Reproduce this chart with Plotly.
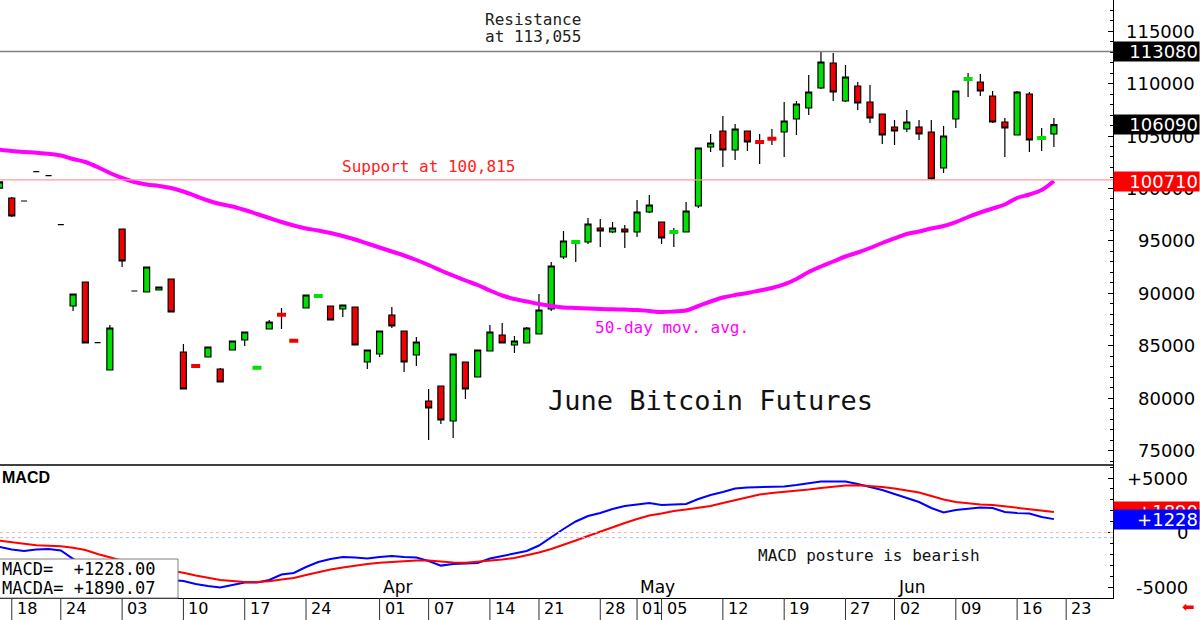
import plotly.graph_objects as go
import pandas as pd

# ---------------- data ----------------
holidays = ["2025-02-17", "2025-04-18", "2025-05-26", "2025-06-19"]
dates = pd.bdate_range("2025-02-14", "2025-06-20", freq="C", holidays=holidays)

opens = [100040, 99089, 98803, 101597, 101215, 96544, 88794, 91081, 85295, 82693,
         96134, 90224, 90128, 90319, 91368, 84409, 83120, 83932, 82788, 84599,
         85552, 82870, 86601, 88010, 85530, 88603, 89700, 88794, 88508, 88698,
         83455, 84218, 87936, 86410, 84123, 79737, 81167, 77831, 83455, 82025,
         84504, 86029, 85076, 85267, 86124, 88508, 93465, 94850, 94895, 96230,
         95848, 96134, 95848, 97755, 96801, 95800, 95848, 98327, 103951, 105477,
         103665, 105477, 104470, 104790, 105382, 106620, 107669, 109575, 111959, 108336,
         109766, 108241, 107097, 105858, 105667, 105858, 105382, 101949, 106620, 110390,
         110148, 108813, 106334, 105095, 109004, 104770, 105191]
highs = [100680, 99185, 98803, 101597, 101215, 96544, 89990, 91130, 85295, 86982,
         96180, 90224, 92560, 90650, 91400, 85171, 83120, 84930, 82884, 85500,
         86360, 82960, 87459, 88603, 85530, 89890, 89790, 88840, 88930, 88740,
         84640, 86450, 88698, 86450, 85839, 80881, 81210, 84260, 83500, 84640,
         86982, 87173, 85934, 86792, 89938, 92988, 95944, 94960, 97183, 97088,
         96801, 96516, 98899, 99375, 96850, 96230, 98708, 103900, 105191, 106906,
         106144, 105520, 105191, 105667, 108241, 108336, 110815, 113080, 112912, 111768,
         110148, 109862, 107140, 106525, 107478, 106525, 106525, 105953, 109340, 111006,
         110910, 109290, 106716, 109290, 109194, 105762, 106716]
lows = [99980, 97278, 98803, 101597, 101215, 96544, 88317, 85220, 85295, 82650,
        92512, 90224, 90080, 90280, 88180, 80840, 83030, 83890, 81500, 84550,
        84980, 82870, 86560, 86601, 85440, 88560, 89700, 87410, 87745, 85030,
        82788, 83932, 86696, 82502, 83074, 76020, 77545, 76210, 79928, 81980,
        84460, 85220, 84313, 85220, 86080, 88317, 93274, 92988, 94704, 94418,
        95753, 94323, 95372, 97659, 94704, 94418, 95800, 98136, 103475, 102045,
        102712, 103570, 102331, 104142, 102998, 105095, 107002, 109480, 108336, 108241,
        107478, 106239, 104237, 104142, 105382, 104619, 100815, 101473, 105762, 108718,
        108813, 106239, 102998, 105050, 103475, 103570, 103951]
closes = [100620, 97373, 98803, 101597, 101215, 96544, 89938, 85267, 85295, 86696,
          93084, 90224, 92512, 90605, 88222, 80881, 83030, 84885, 81549, 85457,
          86315, 82960, 87268, 87920, 85440, 89842, 89790, 87459, 88889, 85076,
          84599, 86410, 86887, 83455, 85362, 79070, 77926, 84218, 80881, 84599,
          86315, 85267, 85457, 86696, 88412, 92607, 94990, 94940, 96611, 95944,
          96230, 95848, 97755, 98422, 95276, 95890, 97850, 103856, 104333, 103665,
          105667, 104428, 104380, 104700, 106430, 108050, 109194, 112054, 109194, 110624,
          108146, 106716, 105095, 105477, 106334, 105191, 100901, 105000, 109290, 110480,
          109290, 106334, 105762, 109194, 104619, 104860, 106090]
ma50 = [103700, 103580, 103480, 103400, 103300, 103141, 102807, 102521, 102045, 101473,
        100996, 100615, 100376, 100233, 100043, 99709, 99280, 98851, 98517, 98279,
        97946, 97564, 97183, 96801, 96468, 96182, 95991, 95753, 95467, 95133,
        94752, 94371, 93989, 93608, 93179, 92702, 92178, 91701, 91225, 90796,
        90272, 89795, 89461, 89223, 88984, 88794, 88651, 88603, 88555, 88508,
        88479, 88450, 88412, 88317, 88222, 88269, 88365, 88794, 89223, 89604,
        89842, 90033, 90272, 90510, 90844, 91368, 92035, 92559, 93036, 93513,
        93894, 94323, 94800, 95229, 95657, 95896, 96182, 96420, 96801, 97278,
        97707, 98088, 98470, 99089, 99423, 99852, 100710]
macd = [-1330, -1560, -1697, -1560, -1514, -1651, -2422, -3064, -3523, -3899,
        -4083, -4266, -4358, -4358, -4358, -4450, -4725, -4908, -5046, -4817,
        -4596, -4596, -4358, -3853, -3715, -3165, -2706, -2431, -2238, -2294,
        -2394, -2248, -2156, -2248, -2303, -2615, -3037, -2890, -2844, -2798,
        -2385, -2156, -1972, -1697, -1193, -413, 321, 1009, 1514, 1789,
        2156, 2431, 2569, 2706, 2523, 2569, 2615, 3073, 3440, 3715,
        4037, 4128, 4174, 4174, 4220, 4358, 4495, 4688, 4688, 4688,
        4449, 4174, 3899, 3532, 3165, 2798, 2248, 1835, 2064, 2202,
        2284, 2248, 1881, 1789, 1743, 1422, 1228]
macda = [-761, -917, -1055, -1174, -1211, -1266, -1404, -1605, -1972, -2294,
         -2615, -2890, -3165, -3349, -3532, -3688, -3945, -4128, -4358, -4449,
         -4541, -4541, -4468, -4312, -4174, -3899, -3642, -3394, -3211, -3027,
         -2890, -2771, -2688, -2615, -2569, -2569, -2660, -2752, -2771, -2688,
         -2596, -2477, -2339, -2110, -1835, -1514, -1147, -734, -321, 92,
         505, 872, 1239, 1560, 1743, 1972, 2110, 2248, 2431, 2706,
         2982, 3257, 3486, 3624, 3715, 3853, 3945, 4083, 4220, 4312,
         4330, 4266, 4174, 4037, 3844, 3670, 3349, 3027, 2798, 2660,
         2569, 2523, 2385, 2293, 2156, 1972, 1890]

resistance = 113055
support = 100815
contract_high = 113080
last_close = 106090
ma_last = 100710
macd_last = 1228.00
macda_last = 1890.07
macd_ref_level = -470

price_ticks = [75000, 80000, 85000, 90000, 95000, 100000, 105000, 110000, 115000]
macd_ticks = [5000, 0, -5000]
macd_tick_text = ["+5000", "0", "-5000"]
day_tick_dates = ["2025-02-18", "2025-02-24", "2025-03-03", "2025-03-10", "2025-03-17",
                  "2025-03-24", "2025-04-01", "2025-04-07", "2025-04-14", "2025-04-21",
                  "2025-04-28", "2025-05-01", "2025-05-05", "2025-05-12", "2025-05-19",
                  "2025-05-27", "2025-06-02", "2025-06-09", "2025-06-16", "2025-06-23"]
day_tick_text = ["18", "24", "03", "10", "17", "24", "01", "07", "14", "21",
                 "28", "01", "05", "12", "19", "27", "02", "09", "16", "23"]
month_tick_dates = ["2025-04-01", "2025-05-01", "2025-06-02"]
month_tick_text = ["Apr", "May", "Jun"]

# ---------------- layout geometry ----------------
W, H = 1200, 620
ML, MR, MT, MB = 0, 87, 0, 22
PW, PH = W - ML - MR, H - MT - MB
SPLIT_PX = 465


def px(xp):
    return (xp - ML) / PW


def py(yp):
    return (PH - (yp - MT)) / PH


split = py(SPLIT_PX)
GREEN = "#00e000"
RED = "#f00000"
MONO = "DejaVu Sans Mono"
SANS = "DejaVu Sans"

x = list(range(len(dates)))
hover = [d.strftime("%Y-%m-%d") for d in dates]


def pos(d):
    return int(dates.searchsorted(pd.Timestamp(d)))


fig = go.Figure()
fig.add_trace(go.Candlestick(
    x=x, open=opens, high=highs, low=lows, close=closes, text=hover,
    increasing=dict(fillcolor=GREEN, line=dict(color="black", width=1.2)),
    decreasing=dict(fillcolor=RED, line=dict(color="black", width=1.2)),
    whiskerwidth=0, xaxis="x", yaxis="y", showlegend=False))
flat = [i for i in x if 0 < abs(closes[i] - opens[i]) < 150]
fig.add_trace(go.Candlestick(
    x=flat, open=[opens[i] for i in flat], close=[closes[i] for i in flat],
    high=[max(opens[i], closes[i]) for i in flat], low=[min(opens[i], closes[i]) for i in flat],
    increasing=dict(fillcolor=GREEN, line=dict(color=GREEN, width=3)),
    decreasing=dict(fillcolor=RED, line=dict(color=RED, width=3)),
    whiskerwidth=0, xaxis="x", yaxis="y", showlegend=False))
fig.add_trace(go.Scatter(x=x, y=ma50, mode="lines",
                         line=dict(color="#ff00ff", width=4, shape="spline", smoothing=1.0),
                         xaxis="x", yaxis="y", showlegend=False))
fig.add_trace(go.Scatter(x=x, y=macd, mode="lines", line=dict(color="#0000ff", width=2),
                         xaxis="x", yaxis="y2", showlegend=False))
fig.add_trace(go.Scatter(x=x, y=macda, mode="lines", line=dict(color="#ff0000", width=2),
                         xaxis="x", yaxis="y2", showlegend=False))

axis_common = dict(side="right", anchor="x", showline=True, linecolor="black", linewidth=1,
                   ticks="inside", ticklen=5, tickcolor="black", tick0=0, dtick=5000,
                   minor=dict(ticks="inside", ticklen=3, dtick=1000, tickcolor="black"),
                   showticklabels=False, showgrid=False, zeroline=False, fixedrange=True)

fig.update_layout(
    width=W, height=H, margin=dict(l=ML, r=MR, t=MT, b=MB, pad=0),
    paper_bgcolor="white", plot_bgcolor="white", showlegend=False, hovermode=False,
    xaxis=dict(range=[0.04, 90.82], anchor="y2", showline=True, linecolor="black", linewidth=1,
               showticklabels=False, ticks="", showgrid=False, zeroline=False,
               rangeslider=dict(visible=False), fixedrange=True),
    yaxis=dict(domain=[split, 1], range=[73636, 117965], **axis_common),
    yaxis2=dict(domain=[0, split], range=[-6009, 6193], **axis_common),
)

shapes = []
shapes.append(dict(type="line", xref="paper", x0=0, x1=1, yref="y", y0=resistance, y1=resistance,
                   line=dict(color="#808080", width=1.5)))
shapes.append(dict(type="line", xref="paper", x0=0, x1=1, yref="y", y0=support, y1=support,
                   line=dict(color="#ff9a9a", width=1.2)))
shapes.append(dict(type="line", xref="paper", x0=0, x1=1, yref="y2", y0=0, y1=0,
                   line=dict(color="#ffb4b4", width=1, dash="dot")))
shapes.append(dict(type="line", xref="paper", x0=0, x1=1, yref="y2", y0=macd_ref_level, y1=macd_ref_level,
                   line=dict(color="#b4b4ff", width=1, dash="dot")))
shapes.append(dict(type="line", xref="paper", x0=0, x1=1, yref="paper", y0=split, y1=split,
                   line=dict(color="black", width=1.5)))
shapes.append(dict(type="rect", xref="paper", x0=px(-2), x1=px(178), yref="paper", y0=py(598), y1=py(559),
                   fillcolor="white", line=dict(color="#808080", width=1), layer="above"))
for d in day_tick_dates:
    p = pos(d)
    shapes.append(dict(type="line", xref="x", x0=p, x1=p, yref="paper", y0=0, y1=py(620),
                       line=dict(color="#303030", width=1)))

ann = []


def text(xp, yp, t, size=16, color="black", family=MONO, xanchor="center", **kw):
    ann.append(dict(xref="paper", yref="paper", x=px(xp), y=py(yp), text=t, showarrow=False,
                    xanchor=xanchor, yanchor="middle", font=dict(size=size, color=color, family=family), **kw))


text(533, 20, "Resistance", color="#222222")
text(533, 37, f"at {resistance:,}", color="#222222")
text(428, 166, f"Support at {support:,}", color="#ff2020")
text(672, 327, "50-day mov. avg.", color="#ff00ff")
text(710, 400, "June Bitcoin Futures", size=27, color="#111111")
text(869, 555, "MACD posture is bearish", color="#111111")
text(0, 477, "<b>MACD</b>", size=16, family="Liberation Sans", xanchor="left")
text(0, 569, f"MACD=  {macd_last:+.2f}", size=17, xanchor="left")
text(0, 588, f"MACDA= {macda_last:+.2f}", size=17, xanchor="left")

for d, t in zip(day_tick_dates, day_tick_text):
    ann.append(dict(xref="x", yref="paper", x=pos(d), y=py(608), text=t, showarrow=False,
                    xanchor="left", yanchor="middle", xshift=3, font=dict(size=16, family=SANS, color="black")))
for d, t in zip(month_tick_dates, month_tick_text):
    ann.append(dict(xref="x", yref="paper", x=pos(d), y=py(587), text=t, showarrow=False,
                    xanchor="left", yanchor="middle", xshift=1, font=dict(size=17, family=SANS, color="black")))

for v in price_ticks:
    ann.append(dict(xref="paper", yref="y", x=px(1197), y=v, text=str(v), showarrow=False,
                    xanchor="right", yanchor="middle", font=dict(size=18, family=SANS, color="black")))
for v, t in zip(macd_ticks, macd_tick_text):
    ann.append(dict(xref="paper", yref="y2", x=px(1190), y=v, text=t, showarrow=False,
                    xanchor="right", yanchor="middle", font=dict(size=18, family=SANS, color="black")))


def box(yref, v, t, bg):
    ann.append(dict(xref="paper", yref=yref, x=px(1200), y=v, text=t, showarrow=False,
                    xanchor="right", yanchor="middle", width=83, height=17, align="right",
                    bgcolor=bg, borderpad=1, font=dict(size=18, family=SANS, color="white")))


box("y", contract_high, f"{contract_high}", "black")
box("y", last_close, f"{last_close}", "black")
box("y", ma_last, f"{ma_last}", "#ff0000")
box("y2", macda_last, f"{macda_last:+.0f}", "#ff0000")
box("y2", macd_last, f"{macd_last:+.0f}", "#0000ff")

text(1188, 607, "⬅", size=15, color="#ff0000", family=SANS)

fig.update_layout(shapes=shapes, annotations=ann)
fig.write_html("out.html")
